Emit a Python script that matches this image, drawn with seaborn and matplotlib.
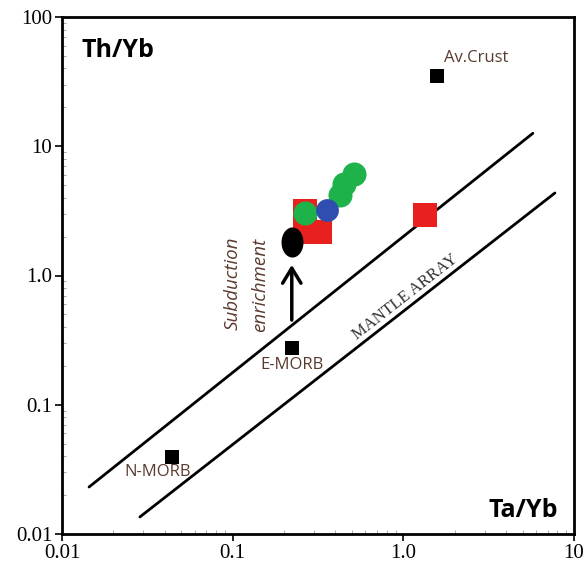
import matplotlib
matplotlib.use("Agg")
import matplotlib.pyplot as plt
import matplotlib.path as mpath
import matplotlib.transforms as mtrans
import seaborn as sns

sns.set_theme(style="ticks")
plt.rcParams['font.family'] = ['Liberation Serif', 'DejaVu Sans']

# reference compositions
ref_names = ["N-MORB", "E-MORB", "Av.Crust"]
ref_ta_yb = [0.044, 0.222, 1.57]
ref_th_yb = [0.0395, 0.275, 35.0]

# samples
red_ta_yb = [0.265, 0.265, 0.324, 1.34]
red_th_yb = [3.15, 2.17, 2.17, 2.94]
green_ta_yb = [0.265, 0.426, 0.449, 0.514]
green_th_yb = [3.05, 4.2, 5.1, 6.1]
blue_ta_yb = [0.356]
blue_th_yb = [3.21]
black_ta_yb = [0.222]
black_th_yb = [1.82]

# mantle array boundaries
upper_ta_yb = [0.0144, 5.74]
upper_th_yb = [0.0231, 12.6]
lower_ta_yb = [0.0286, 7.73]
lower_th_yb = [0.01355, 4.35]

# subduction arrow
arrow_ta_yb = 0.222
arrow_from, arrow_to = 0.43, 1.27

fig = plt.figure(figsize=(5.88, 5.68), dpi=100)
ax = fig.add_axes([62/588, 34/568, 512/588, 517/568])
ax.set_xscale("log")
ax.set_yscale("log")

sns.lineplot(x=upper_ta_yb, y=upper_th_yb, color="black", lw=2, ax=ax)
sns.lineplot(x=lower_ta_yb, y=lower_th_yb, color="black", lw=2, ax=ax)

sns.scatterplot(x=red_ta_yb, y=red_th_yb, marker="s", s=300, color="#e8201e",
                linewidth=0, ax=ax, zorder=3)
sns.scatterplot(x=green_ta_yb, y=green_th_yb, marker="o", s=300, color="#1db24a",
                linewidth=0, ax=ax, zorder=4)
sns.scatterplot(x=blue_ta_yb, y=blue_th_yb, marker="o", s=270, color="#2e4fb0",
                linewidth=0, ax=ax, zorder=4)
ellipse = mpath.Path.unit_circle().transformed(mtrans.Affine2D().scale(0.73, 1))
sns.scatterplot(x=black_ta_yb, y=black_th_yb, marker=ellipse, s=470, color="black",
                linewidth=0, ax=ax, zorder=5)
sns.scatterplot(x=ref_ta_yb, y=ref_th_yb, marker="s", s=100, color="black",
                linewidth=0, ax=ax, zorder=5)

ax.annotate("", xy=(arrow_ta_yb, arrow_to), xytext=(arrow_ta_yb, arrow_from),
            arrowprops=dict(arrowstyle="->,head_length=0.9,head_width=0.55",
                            lw=2.5, color="black"), zorder=4)

ax.set_xlim(0.01, 10)
ax.set_ylim(0.01, 100)
ax.set_xticks([0.01, 0.1, 1, 10])
ax.set_xticklabels(["0.01", "0.1", "1.0", "10"])
ax.set_yticks([0.01, 0.1, 1, 10, 100])
ax.set_yticklabels(["0.01", "0.1", "1.0", "10", "100"])
ax.tick_params(which="major", direction="out", length=5, width=1.2,
               labelsize=15, colors="black", pad=2)
ax.tick_params(which="minor", direction="in", length=3, width=0.6, colors="#999999")
for sp in ax.spines.values():
    sp.set_linewidth(2)
    sp.set_color("black")

bold = dict(family=["Open Sans", "DejaVu Sans"], fontweight="bold", fontsize=18,
            color="black", transform=ax.transAxes)
ax.text(0.039, 0.936, "Th/Yb", ha="left", va="center", **bold)
ax.text(0.969, 0.046, "Ta/Yb", ha="right", va="center", **bold)

lab = dict(family=["Open Sans", "DejaVu Sans"], fontsize=12, color="#5b3a2e",
           transform=ax.transAxes, ha="center", va="center")
ax.text(0.809, 0.921, ref_names[2], **lab)
ax.text(0.449, 0.327, ref_names[1], **lab)
ax.text(0.186, 0.120, ref_names[0], **lab)

ital = dict(family=["Open Sans", "DejaVu Sans"], fontstyle="italic", fontsize=13.5,
            color="#5b3a2e", transform=ax.transAxes, ha="center", va="center",
            rotation=90)
ax.text(0.334, 0.484, "Subduction", **ital)
ax.text(0.387, 0.482, "enrichment", **ital)
ax.text(0.670, 0.458, "MANTLE ARRAY", transform=ax.transAxes, ha="center",
        va="center", rotation=38, fontsize=12, color="#333333",
        family=["Liberation Serif", "DejaVu Serif"])

fig.savefig("out.png", dpi=100)
